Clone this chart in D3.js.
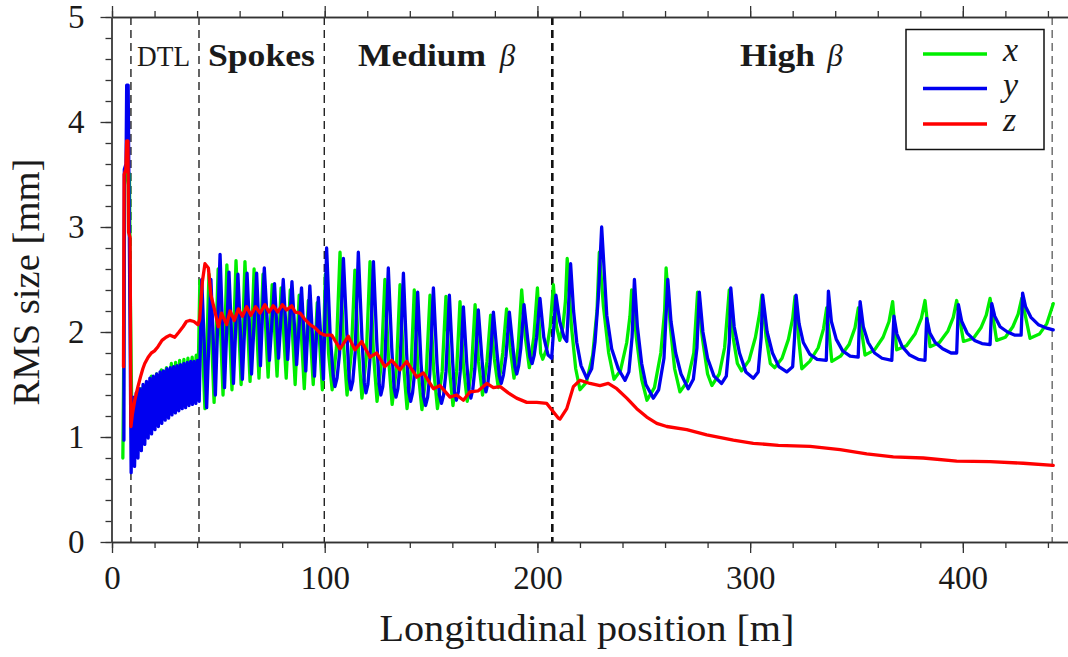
<!DOCTYPE html>
<html>
<head>
<meta charset="utf-8">
<script src="https://cdn.jsdelivr.net/npm/d3@7"></script>
<style>
  html, body { margin: 0; padding: 0; background: #fff; }
  svg { display: block; }
  svg text { fill: #1a1a1a; }
</style>
</head>
<body>
<svg id="chart" width="1068" height="657"></svg>
<script>
// RMS beam size along the linac: [longitudinal position (m), RMS size (mm)]
const sizeX = [
  [5.1,0.80],[5.4,1.45],[6.0,3.40],[7.0,3.55],[8.2,3.50],[8.6,2.40],[9.4,1.05],
  [11.6,1.38],[12.3,0.95],[13.8,1.46],[14.5,1.00],[16.2,1.52],[16.9,1.05],[18.5,1.58],[19.2,1.10],
  [20.9,1.60],[21.6,1.14],[23.2,1.64],[23.9,1.18],[25.6,1.66],[26.3,1.21],[27.9,1.70],[28.6,1.24],
  [29.9,1.71],[30.6,1.27],[31.8,1.73],[32.5,1.29],[33.8,1.74],[34.5,1.31],[35.7,1.75],[36.4,1.33],
  [37.7,1.76],[38.4,1.35],[39.6,1.78],[40.3,1.36],
  [41.3,2.49],[43.7,1.27],[45.6,2.55],[48.0,1.33],[49.9,2.60],[52.2,1.40],[54.0,2.64],[56.4,1.45],
  [58.3,2.68],[60.7,1.50],[62.5,2.67],[64.9,1.53],[66.8,2.60],[69.1,1.56],[71.0,2.55],[73.4,1.57],
  [75.3,2.45],[77.6,1.58],[79.5,2.42],[81.9,1.56],[83.8,2.40],[86.1,1.50],[88.0,2.35],[90.4,1.46],
  [92.3,2.30],[94.6,1.50],[96.5,2.28],[98.9,1.45],
  [100.3,2.55],[101.8,1.80],[103.5,1.45],[105.5,1.85],[107.2,2.76],[108.8,1.90],[110.5,1.40],
  [112.5,1.80],[114.2,2.59],[115.8,1.85],[117.5,1.37],[119.5,1.75],[121.3,2.67],[122.9,1.80],
  [124.6,1.34],[126.6,1.70],[128.3,2.50],[130.0,1.75],[131.7,1.31],[133.7,1.65],[135.4,2.45],
  [137.0,1.70],[138.7,1.27],[140.5,1.60],[142.1,2.40],[143.8,1.65],[145.7,1.26],[147.7,1.60],
  [149.5,2.35],[151.2,1.65],[153.0,1.27],[155.2,1.62],[157.0,2.34],[158.6,1.65],[160.3,1.30],
  [162.0,1.62],[163.6,2.29],[165.2,1.68],[167.0,1.34],[169.0,1.65],[170.7,2.26],[172.3,1.72],
  [174.2,1.40],[176.3,1.72],[178.0,2.16],[179.7,1.75],[181.6,1.47],[183.7,1.80],[185.5,2.22],
  [187.2,1.85],[189.0,1.56],[190.9,1.85],[192.6,2.40],[194.3,1.95],[196.2,1.66],[198.3,1.95],
  [200.0,2.42],[201.5,1.80],[202.5,1.74],[204.5,1.85],[206.0,2.05],[207.5,2.45],[209.0,2.05],
  [210.5,1.92],[212.0,2.05],[213.2,2.30],[214.0,2.70],[216.0,2.05],[218.0,1.65],[220.0,1.45],
  [223.0,1.52],[226.0,1.78],[228.0,2.20],[229.1,2.76],[231.0,2.25],[233.5,1.80],[236.0,1.55],
  [239.0,1.63],[242.0,1.90],[243.5,2.15],[244.3,2.40],[246.5,1.95],[249.0,1.55],[251.5,1.35],
  [255.0,1.47],[258.0,1.80],[259.8,2.20],[260.5,2.61],[262.5,2.05],[264.5,1.65],[267.0,1.43],
  [270.5,1.53],[273.5,1.80],[275.3,2.38],[277.5,1.95],[280.0,1.60],[282.0,1.49],[285.5,1.60],
  [288.0,1.85],[290.2,2.40],[292.0,1.95],[294.0,1.70],[296.0,1.63],[299.5,1.73],[302.5,1.95],
  [304.5,2.18],[305.5,2.35],[307.5,1.95],[309.5,1.70],[311.5,1.66],[315.0,1.75],[318.0,1.93],
  [320.0,2.13],[321.1,2.34],[323.0,1.90],[324.3,1.65],[328.0,1.72],[332.0,1.85],[334.5,2.03],
  [336.0,2.23],[338.4,1.72],[342.5,1.77],[346.5,1.88],[349.3,2.04],[350.9,2.23],[354.0,1.78],
  [358.5,1.83],[362.5,1.95],[365.3,2.10],[367.0,2.29],[368.9,1.83],[373.5,1.87],[377.5,1.98],
  [380.5,2.13],[382.2,2.30],[384.6,1.86],[389.0,1.90],[393.0,2.01],[395.5,2.14],[397.1,2.30],
  [400.3,1.91],[405.0,1.94],[408.5,2.04],[411.0,2.16],[412.8,2.32],[415.9,1.92],[420.0,1.95],
  [423.5,2.05],[426.0,2.17],[427.7,2.32],[431.6,1.94],[436.0,1.98],[439.5,2.08],[442.5,2.27]
];

const sizeY = [
  [5.6,0.97],[5.8,3.55],[6.6,3.60],[6.9,4.35],[7.6,4.35],[9.0,0.66],
  [9.8,1.38],[10.6,0.72],[11.4,1.42],[12.2,0.80],[13.0,1.46],[13.8,0.87],[14.6,1.50],[15.4,0.93],
  [16.2,1.53],[17.0,0.99],[17.8,1.56],[18.6,1.03],[19.4,1.58],[20.2,1.07],[21.0,1.60],[21.8,1.10],
  [22.6,1.62],[23.4,1.13],[24.2,1.63],[25.0,1.16],[25.8,1.65],[26.6,1.18],[27.4,1.66],[28.2,1.21],
  [29.0,1.67],[29.8,1.23],[30.6,1.68],[31.4,1.25],[32.2,1.69],[33.0,1.27],[33.8,1.70],[34.6,1.28],
  [35.4,1.71],[36.2,1.30],[37.0,1.72],[37.8,1.31],[38.6,1.72],[39.4,1.32],[40.2,1.73],[41.0,1.34],
  [42.2,2.50],[44.5,1.28],[46.5,2.50],[48.6,1.40],[50.8,2.74],[52.9,1.47],[55.0,2.57],[57.1,1.51],
  [59.2,2.55],[61.3,1.55],[63.5,2.56],[65.6,1.60],[68.0,2.56],[69.8,1.68],[71.6,2.61],[74.0,1.73],
  [76.4,2.46],[78.3,1.75],[80.5,2.50],[82.6,1.74],[84.6,2.48],[86.8,1.69],[89.1,2.42],[91.1,1.63],
  [93.0,2.44],[95.2,1.58],[97.0,2.33],[99.4,1.55],
  [100.9,2.80],[102.5,2.00],[104.0,1.58],[104.8,1.48],[105.8,1.56],[107.0,1.80],[108.8,2.70],
  [110.5,1.95],[111.5,1.55],[112.3,1.45],[113.2,1.53],[114.3,1.80],[115.8,2.76],[117.5,1.95],
  [118.6,1.52],[119.4,1.42],[120.3,1.50],[121.3,1.75],[122.9,2.67],[124.5,1.90],[125.6,1.50],
  [126.4,1.40],[127.3,1.48],[128.3,1.72],[129.9,2.61],[131.5,1.85],[132.6,1.47],[133.5,1.38],
  [134.4,1.46],[135.4,1.68],[137.0,2.56],[138.5,1.80],[139.5,1.43],[140.4,1.34],[141.3,1.42],
  [142.2,1.60],[143.7,2.38],[145.3,1.70],[146.4,1.39],[147.4,1.30],[148.4,1.38],[149.4,1.60],
  [151.1,2.42],[152.8,1.70],[153.9,1.40],[154.9,1.32],[155.9,1.40],[157.0,1.62],[158.6,2.35],
  [160.2,1.70],[161.0,1.43],[161.9,1.35],[162.8,1.43],[163.7,1.62],[165.2,2.24],[166.8,1.70],
  [167.8,1.45],[168.7,1.37],[169.6,1.45],[170.6,1.65],[172.2,2.21],[173.9,1.75],[174.9,1.51],
  [175.8,1.43],[176.7,1.51],[177.7,1.70],[179.3,2.19],[181.0,1.80],[182.1,1.58],[183.0,1.51],
  [184.0,1.59],[185.2,1.77],[186.8,2.19],[188.5,1.85],[189.4,1.67],[190.3,1.60],[191.2,1.68],
  [192.2,1.85],[193.7,2.26],[195.5,1.92],[196.5,1.76],[197.5,1.70],[198.5,1.78],[199.6,1.95],
  [201.2,2.32],[203.0,1.95],[205.0,1.78],[206.7,1.75],[208.7,2.35],[210.5,2.10],[212.5,1.95],
  [213.8,1.91],[215.6,2.65],[217.0,2.20],[218.5,1.90],[220.5,1.68],[223.2,1.56],[225.5,1.65],
  [227.1,1.91],[228.6,2.32],[230.2,3.00],[232.6,2.16],[234.9,1.84],[238.0,1.65],[241.2,1.54],
  [243.0,1.62],[244.5,1.95],[245.6,2.50],[247.0,2.05],[249.0,1.70],[251.0,1.50],[254.5,1.37],
  [257.0,1.45],[259.5,1.75],[261.3,2.50],[262.8,2.10],[265.0,1.80],[267.5,1.60],[270.9,1.46],
  [273.3,1.55],[275.0,1.85],[276.1,2.38],[277.8,2.00],[280.0,1.75],[283.0,1.58],[286.6,1.51],
  [288.8,1.58],[290.2,1.90],[290.9,2.42],[292.5,2.05],[295.0,1.80],[298.0,1.62],[301.5,1.56],
  [303.8,1.62],[305.2,1.95],[305.9,2.35],[308.0,2.00],[310.5,1.80],[313.5,1.67],[317.2,1.62],
  [320.0,1.67],[320.9,1.95],[321.6,2.35],[323.0,2.08],[325.0,1.90],[328.0,1.79],[331.5,1.74],
  [335.8,1.73],[336.8,2.39],[338.2,2.10],[340.5,1.93],[343.5,1.82],[347.0,1.77],[350.8,1.76],
  [351.7,2.29],[353.2,2.05],[355.5,1.90],[358.5,1.80],[362.0,1.75],[366.6,1.73],[367.6,2.15],
  [369.0,1.98],[371.5,1.86],[375.0,1.78],[379.0,1.74],[382.2,1.73],[383.0,2.13],[384.5,1.99],
  [387.0,1.90],[390.5,1.84],[394.5,1.80],[397.1,1.80],[397.9,2.26],[399.5,2.10],[402.0,1.99],
  [405.5,1.92],[409.0,1.89],[412.8,1.88],[413.6,2.27],[415.0,2.15],[417.5,2.05],[421.0,2.00],
  [424.5,1.97],[427.4,1.97],[428.1,2.37],[429.5,2.24],[432.0,2.14],[435.5,2.07],[439.0,2.04],
  [442.5,2.02]
];

const sizeZ = [
  [5.4,1.67],[5.7,3.50],[6.5,3.55],[6.9,3.82],[7.5,3.82],[7.8,2.95],[8.5,2.90],[8.9,1.10],
  [9.6,1.22],[10.7,1.35],[12.2,1.48],[13.5,1.58],[14.5,1.65],[15.4,1.70],[17.0,1.76],[18.5,1.80],
  [20.0,1.82],[21.6,1.86],[23.5,1.92],[25.4,1.95],[27.3,1.97],[29.5,1.95],[31.5,2.00],[33.4,2.05],
  [35.0,2.10],[36.5,2.11],[38.5,2.10],[40.4,2.07],[41.2,2.12],[42.5,2.48],[43.7,2.65],[45.3,2.61],
  [46.5,2.35],[48.1,2.22],[50.0,2.05],[51.5,2.18],[53.9,2.07],[55.5,2.20],[57.5,2.11],[59.4,2.22],
  [61.3,2.15],[63.3,2.24],[65.3,2.16],[67.5,2.24],[69.6,2.18],[71.9,2.26],[73.8,2.19],[75.8,2.25],
  [77.9,2.19],[80.1,2.26],[82.1,2.21],[84.5,2.25],[86.1,2.19],[88.4,2.18],[90.7,2.12],[93.1,2.07],
  [95.5,2.04],[97.8,1.99],[100.1,1.97],[103.3,1.97],[107.2,1.84],[111.1,1.96],[114.2,1.83],
  [117.4,1.91],[121.3,1.76],[124.4,1.80],[128.3,1.67],[131.5,1.73],[135.4,1.64],[138.5,1.72],
  [143.3,1.57],[146.4,1.61],[151.1,1.46],[154.2,1.49],[158.9,1.38],[162.0,1.40],[165.2,1.35],
  [168.3,1.43],[172.2,1.44],[176.2,1.51],[179.3,1.47],[182.5,1.48],[186.3,1.42],[190.2,1.37],
  [195.0,1.33],[199.7,1.33],[204.4,1.32],[206.7,1.26],[209.8,1.18],[210.6,1.17],[213.8,1.27],
  [216.9,1.48],[220.0,1.54],[224.7,1.51],[229.4,1.49],[233.3,1.51],[237.3,1.46],[242.0,1.37],
  [246.7,1.27],[251.4,1.19],[256.1,1.13],[260.8,1.10],[270.2,1.07],[279.6,1.02],[292.1,0.97],
  [301.5,0.94],[313.3,0.92],[328.2,0.91],[342.3,0.88],[354.8,0.84],[367.3,0.81],[381.4,0.80],
  [397.1,0.77],[412.8,0.765],[428.4,0.75],[442.5,0.73]
];

// Section boundaries (m) and section names
const sectionBounds = [8.9, 40.9, 99.8, 207.0, 442.0];
const sectionNames = ["DTL", "Spokes", "Medium", "High"];

const xTickValues = [0, 100, 200, 300, 400];
const yTickValues = [0, 1, 2, 3, 4, 5];

const seriesNames = ["x", "y", "z"];
const seriesColors = ["#00ee00", "#0000f0", "#ff0000"];

// ---------------------------------------------------------------
const SERIF = "'Liberation Serif', 'Times New Roman', serif";
const svg = d3.select("#chart");
const x = d3.scaleLinear().domain([0, 450]).range([112, 1069.2]);
const y = d3.scaleLinear().domain([0, 5]).range([542, 17]);
const axisColor = "#333";

// Section boundaries (drawn beneath the beam curves)
const boundStyle = (i) => i === 3
  ? { w: 2.6, c: "#111" }
  : i === 4 ? { w: 1.4, c: "#666" } : { w: 1.4, c: "#222" };
svg.append("g").selectAll("line").data(sectionBounds).join("line")
  .attr("x1", d => x(d)).attr("x2", d => x(d))
  .attr("y1", y(5)).attr("y2", y(0))
  .attr("stroke", (d, i) => boundStyle(i).c)
  .attr("stroke-width", (d, i) => boundStyle(i).w)
  .attr("stroke-dasharray", "8,5");

// Beam curves
const line = d3.line().x(d => x(d[0])).y(d => y(d[1])).curve(d3.curveLinear);
[sizeX, sizeY, sizeZ].forEach((data, i) => {
  svg.append("path").datum(data)
    .attr("d", line)
    .attr("fill", "none")
    .attr("stroke", seriesColors[i])
    .attr("stroke-width", 3.3)
    .attr("stroke-linejoin", "round")
    .attr("stroke-linecap", "round");
});

// Axes: minor ticks first, then major ticks with labels
function styleAxis(g) {
  g.attr("font-family", SERIF).attr("font-size", 33);
  g.selectAll("path, line").attr("stroke", axisColor).attr("stroke-width", 1.3);
  g.selectAll("text").attr("font-family", SERIF).attr("font-size", 33).attr("fill", "#1a1a1a");
}
const xMinor = d3.range(0, 441, 20);
const yMinor = d3.range(0, 5.01, 0.2);

svg.append("g").attr("transform", `translate(0,${y(0)})`)
  .call(d3.axisBottom(x).tickValues(xMinor).tickSize(6).tickSizeOuter(0).tickFormat(""))
  .call(styleAxis);
svg.append("g").attr("transform", `translate(0,${y(0)})`)
  .call(d3.axisBottom(x).tickValues(xTickValues).tickSize(11).tickSizeOuter(0).tickPadding(13).tickFormat(d3.format("d")))
  .call(styleAxis);

svg.append("g").attr("transform", `translate(0,${y(5)})`)
  .call(d3.axisTop(x).tickValues(xMinor).tickSize(6).tickSizeOuter(0).tickFormat(""))
  .call(styleAxis);
svg.append("g").attr("transform", `translate(0,${y(5)})`)
  .call(d3.axisTop(x).tickValues(xTickValues).tickSize(11).tickSizeOuter(0).tickFormat(""))
  .call(styleAxis);

svg.append("g").attr("transform", `translate(${x(0) - 0.5},0)`)
  .call(d3.axisLeft(y).tickValues(yMinor).tickSize(6).tickSizeOuter(0).tickFormat(""))
  .call(styleAxis);
svg.append("g").attr("transform", `translate(${x(0) - 0.5},0)`)
  .call(d3.axisLeft(y).tickValues(yTickValues).tickSize(11).tickSizeOuter(0).tickPadding(16).tickFormat(d3.format("d")))
  .call(styleAxis);

// Axis titles
svg.append("text")
  .attr("x", 587).attr("y", 641)
  .attr("text-anchor", "middle")
  .attr("font-family", SERIF).attr("font-size", 37)
  .attr("textLength", 415).attr("lengthAdjust", "spacingAndGlyphs")
  .text("Longitudinal position [m]");

svg.append("text")
  .attr("transform", "translate(39,282) rotate(-90)")
  .attr("text-anchor", "middle")
  .attr("font-family", SERIF).attr("font-size", 37)
  .attr("textLength", 247).attr("lengthAdjust", "spacingAndGlyphs")
  .text("RMS size [mm]");

// Section labels
const labelY = 66;
svg.append("text").attr("x", x(11.8)).attr("y", labelY)
  .attr("font-family", SERIF).attr("font-size", 30)
  .attr("textLength", 53).attr("lengthAdjust", "spacingAndGlyphs")
  .text(sectionNames[0]);
svg.append("text").attr("x", x(45.1)).attr("y", labelY)
  .attr("font-family", SERIF).attr("font-size", 31).attr("font-weight", "bold")
  .attr("textLength", 107).attr("lengthAdjust", "spacingAndGlyphs")
  .text(sectionNames[1]);

function betaLabel(name, sx, width, sb) {
  svg.append("text").attr("x", x(sx)).attr("y", labelY)
    .attr("font-family", SERIF).attr("font-size", 31).attr("font-weight", "bold")
    .attr("textLength", width).attr("lengthAdjust", "spacingAndGlyphs")
    .text(name);
  svg.append("text").attr("x", x(sb)).attr("y", labelY)
    .attr("font-family", SERIF).attr("font-size", 31).attr("font-style", "italic")
    .text("β");
}
betaLabel(sectionNames[2], 115.7, 128, 182.3);
betaLabel(sectionNames[3], 295.3, 75, 336.2);

// Legend
const legend = svg.append("g");
legend.append("rect")
  .attr("x", 906).attr("y", 29.5).attr("width", 138).attr("height", 120)
  .attr("fill", "#fff").attr("stroke", "#111").attr("stroke-width", 1.5);
const legendRows = [54, 88.5, 124];
seriesNames.forEach((name, i) => {
  legend.append("line")
    .attr("x1", 923).attr("x2", 987)
    .attr("y1", legendRows[i]).attr("y2", legendRows[i])
    .attr("stroke", seriesColors[i]).attr("stroke-width", 3.5);
  legend.append("text")
    .attr("x", 1003).attr("y", legendRows[i] + 7)
    .attr("font-family", SERIF).attr("font-size", 34).attr("font-style", "italic")
    .text(name);
});
</script>
</body>
</html>
